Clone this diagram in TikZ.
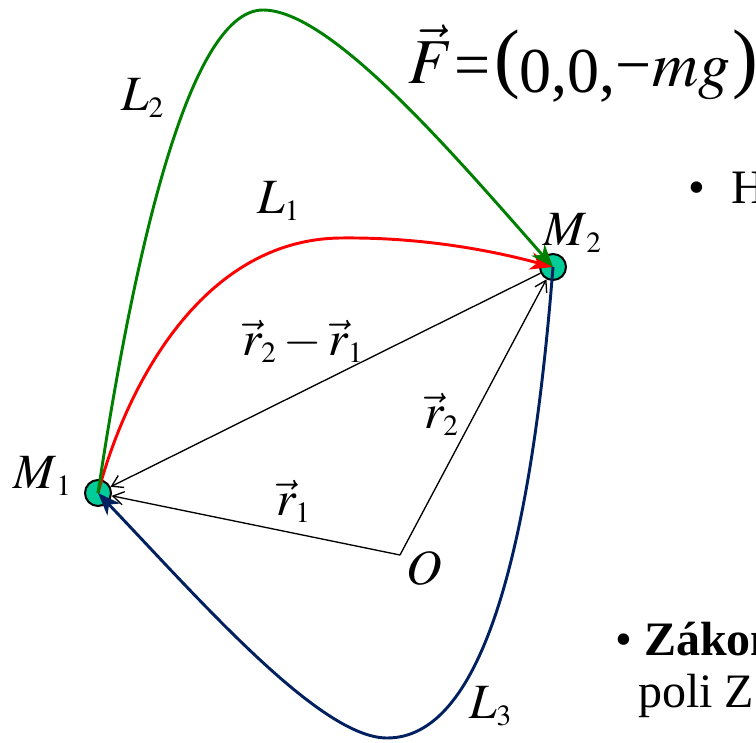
\documentclass[tikz,border=0pt]{standalone}
\usepackage{mathptmx}
\usepackage{fontspec}
\setmainfont{Liberation Serif}
\usetikzlibrary{arrows.meta}
\definecolor{massteal}{RGB}{0,204,153}
\definecolor{pathnavy}{RGB}{0,32,96}
\definecolor{pathgreen}{RGB}{0,128,0}
\DeclareMathSizes{37}{37}{22}{16}
\DeclareMathSizes{48}{48}{30}{22}
\newcommand{\bigparen}[1]{\raisebox{2pt}{\fontsize{58}{58}\selectfont #1}}

\begin{document}
\begin{tikzpicture}[x=0.75pt, y=-0.75pt,
    mass/.style={circle, draw, line width=1.5pt, fill=massteal, minimum size=19.5pt, inner sep=0pt},
    vec/.style={line width=1pt, -{Straight Barb[length=8pt,width=10pt]}},
    path arrow/.style={line width=2.2pt, -{Stealth[length=17pt,width=13pt,inset=5pt]}},
    lbl/.style={font=\fontsize{37}{44}\selectfont, inner sep=0pt, anchor=base west},
    txt/.style={font=\fontsize{36}{43}\selectfont, inner sep=0pt, anchor=base west}]
    \useasboundingbox (0,0) rectangle (756,742);

    \node[mass] (m1) at (98,493) {};
    \node[mass] (m2) at (553,267) {};
    \coordinate (o) at (400,555);

    \draw[vec] (o) -- (m1);
    \draw[vec] (o) -- (m2);
    \draw[vec, {Straight Barb[length=8pt,width=10pt]}-] (m1) -- (m2);

    \draw[path arrow, red] (m1.center) .. controls (125,390) and (200,240) .. (340,238)
        .. controls (420,237) and (490,250) .. (m2.center);
    \draw[path arrow, pathgreen] (m1.center) .. controls (130,280) and (185,10) .. (263,10)
        .. controls (330,10) and (450,150) .. (m2.center);
    \draw[path arrow, pathnavy] (m2.center) .. controls (530,560) and (480,738) .. (387,738)
        .. controls (320,738) and (200,600) .. (m1.center);

    \node[lbl] (lbl-m1) at (13,488) {$M_{\,1}$};
    \node[lbl] (lbl-m2) at (543,245) {$M_{\,2}$};
    \node[lbl] (lbl-l1) at (257,213) {$L_1$};
    \node[lbl] (lbl-l2) at (121,110) {$L_2$};
    \node[lbl] (lbl-l3) at (469,718) {$L_3$};
    \node[lbl] (lbl-r21) at (242,355) {$\vec{r}_2-\vec{r}_1$};
    \node[lbl] (lbl-r2) at (424,428) {$\vec{r}_2$};
    \node[lbl] (lbl-r1) at (276,515) {$\vec{r}_1$};
    \node[lbl] (lbl-o) at (406,584) {$O$};

    \node[lbl, font=\fontsize{48}{54}\selectfont] (force) at (408,86)
        {\raisebox{2pt}{$\vec{F}$}\kern1pt=\kern3pt\bigparen{(}\raisebox{-5pt}{0,0,}−$mg$\kern2pt\bigparen{)}};

    \node[txt] (item-h) at (688,203) {•\hspace{0.55em}H};
    \node[txt] (item-zakon) at (615,655) {• \textbf{Zákon}};
    \node[txt] (item-poli) at (638,707) {poli Z};
\end{tikzpicture}
\end{document}
